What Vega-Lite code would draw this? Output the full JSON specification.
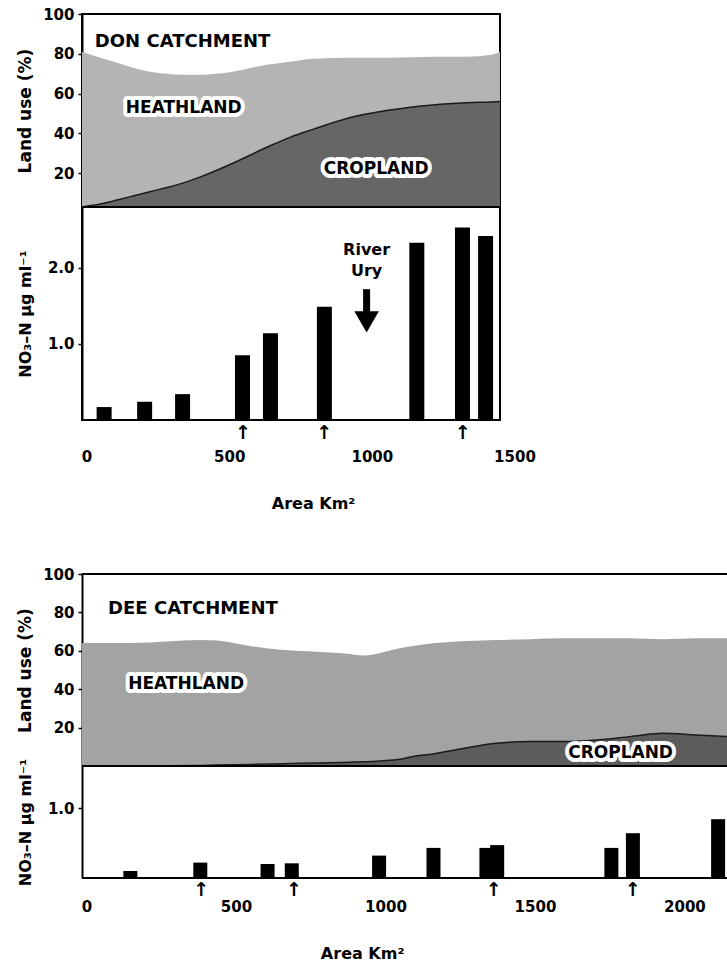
{
  "$schema": "https://vega.github.io/schema/vega-lite/v6.json",
  "padding": {"left": 15, "top": 6, "right": 0, "bottom": 0},
  "background": "white",
  "datasets": {
    "don_land": [
      {"area": 0, "total": 81, "crop": 3},
      {"area": 62, "total": 78, "crop": 4.5},
      {"area": 120, "total": 75.5, "crop": 6.5},
      {"area": 174, "total": 73, "crop": 8.5},
      {"area": 232, "total": 71, "crop": 10.7},
      {"area": 291, "total": 70, "crop": 12.8},
      {"area": 345, "total": 69.5, "crop": 15},
      {"area": 403, "total": 69.5, "crop": 18},
      {"area": 516, "total": 71, "crop": 25},
      {"area": 632, "total": 74.5, "crop": 33},
      {"area": 711, "total": 76, "crop": 38},
      {"area": 790, "total": 77.5, "crop": 42},
      {"area": 906, "total": 78, "crop": 47.5},
      {"area": 1053, "total": 78, "crop": 51.7},
      {"area": 1200, "total": 78.5, "crop": 54.3},
      {"area": 1316, "total": 78.5, "crop": 55.4},
      {"area": 1400, "total": 79.5, "crop": 55.8},
      {"area": 1430, "total": 81, "crop": 56}
    ],
    "don_title": [{"area": 44, "pct": 85.8, "label": "DON CATCHMENT"}],
    "don_boxes": [
      {"area": 150, "pct": 53, "label": "HEATHLAND"},
      {"area": 827, "pct": 22, "label": "CROPLAND"}
    ],
    "don_no3": [
      {"area": 60, "no3": 0.17},
      {"area": 202, "no3": 0.24},
      {"area": 335, "no3": 0.34},
      {"area": 545, "no3": 0.85},
      {"area": 643, "no3": 1.14},
      {"area": 832, "no3": 1.49},
      {"area": 1156, "no3": 2.33},
      {"area": 1316, "no3": 2.53},
      {"area": 1397, "no3": 2.42}
    ],
    "don_river": [
      {"area": 980, "no3": 2.23, "label": "River"},
      {"area": 980, "no3": 1.96, "label": "Ury"}
    ],
    "don_river_arrow": [{"area": 980, "top": 1.72, "bottom": 1.4, "head": 1.29}],
    "don_marks": [{"area": 547}, {"area": 831}, {"area": 1317}],
    "don_xlabels": [
      {"area": 0, "label": "0"},
      {"area": 500, "label": "500"},
      {"area": 1000, "label": "1000"},
      {"area": 1500, "label": "1500"}
    ],
    "don_xtitle": [{"area": 794, "label": "Area Km²"}],
    "dee_land": [
      {"area": 0, "total": 64, "crop": 0},
      {"area": 168, "total": 64, "crop": 0},
      {"area": 389, "total": 65.6, "crop": 0.3},
      {"area": 445, "total": 65.3, "crop": 0.5},
      {"area": 553, "total": 62.5, "crop": 0.8},
      {"area": 662, "total": 60.4, "crop": 1.2},
      {"area": 774, "total": 59.5, "crop": 1.6},
      {"area": 883, "total": 58.3, "crop": 2},
      {"area": 926, "total": 57.5, "crop": 2.2},
      {"area": 1047, "total": 61.3, "crop": 3.5},
      {"area": 1090, "total": 62.5, "crop": 4.9},
      {"area": 1156, "total": 63.9, "crop": 6.3},
      {"area": 1199, "total": 64.5, "crop": 7.5},
      {"area": 1268, "total": 65.1, "crop": 9.5},
      {"area": 1364, "total": 65.6, "crop": 11.8},
      {"area": 1476, "total": 66, "crop": 12.7},
      {"area": 1584, "total": 66.5, "crop": 12.7},
      {"area": 1693, "total": 66.5, "crop": 13.5},
      {"area": 1805, "total": 66.5, "crop": 15.3},
      {"area": 1914, "total": 66, "crop": 17},
      {"area": 2022, "total": 66.5, "crop": 16.1},
      {"area": 2124, "total": 66.5, "crop": 15.3}
    ],
    "dee_title": [{"area": 86, "pct": 81.8, "label": "DEE CATCHMENT"}],
    "dee_boxes": [
      {"area": 152, "pct": 42.7, "label": "HEATHLAND"},
      {"area": 1601, "pct": 6.8, "label": "CROPLAND"}
    ],
    "dee_no3": [
      {"area": 145, "no3": 0.1},
      {"area": 379, "no3": 0.22},
      {"area": 604, "no3": 0.2},
      {"area": 685, "no3": 0.21},
      {"area": 977, "no3": 0.32},
      {"area": 1159, "no3": 0.43},
      {"area": 1336, "no3": 0.43},
      {"area": 1372, "no3": 0.47},
      {"area": 1754, "no3": 0.43},
      {"area": 1826, "no3": 0.64},
      {"area": 2111, "no3": 0.84}
    ],
    "dee_marks": [{"area": 382}, {"area": 692}, {"area": 1360}, {"area": 1825}],
    "dee_xlabels": [
      {"area": 0, "label": "0"},
      {"area": 500, "label": "500"},
      {"area": 1000, "label": "1000"},
      {"area": 1500, "label": "1500"},
      {"area": 2000, "label": "2000"}
    ],
    "dee_xtitle": [{"area": 922, "label": "Area Km²"}]
  },
  "spacing": 54,
  "vconcat": [
    {
      "spacing": 0,
      "bounds": "flush",
      "vconcat": [
        {
          "width": 418,
          "height": 193,
          "layer": [
            {
              "data": {"name": "don_land"},
              "mark": {"type": "area", "interpolate": "monotone", "color": "#b4b4b4", "clip": true},
              "encoding": {
                "x": {"field": "area", "type": "quantitative", "scale": {"domain": [0, 1430]}, "axis": null},
                "y": {"field": "total", "type": "quantitative", "scale": {"domain": [3, 100]}, "title": "Land use (%)", "axis": {"values": [20, 40, 60, 80, 100], "titlePadding": 8}},
                "y2": {"field": "crop"}
              }
            },
            {
              "data": {"name": "don_land"},
              "mark": {"type": "area", "interpolate": "monotone", "color": "#666666", "clip": true},
              "encoding": {
                "x": {"field": "area", "type": "quantitative", "scale": {"domain": [0, 1430]}, "axis": null},
                "y": {"field": "crop", "type": "quantitative", "scale": {"domain": [3, 100]}, "title": "Land use (%)", "axis": {"values": [20, 40, 60, 80, 100], "titlePadding": 8}},
                "y2": {"datum": 3}
              }
            },
            {
              "data": {"name": "don_land"},
              "mark": {"type": "line", "interpolate": "monotone", "color": "#1a1a1a", "strokeWidth": 1.5, "clip": true},
              "encoding": {
                "x": {"field": "area", "type": "quantitative", "scale": {"domain": [0, 1430]}, "axis": null},
                "y": {"field": "crop", "type": "quantitative", "scale": {"domain": [3, 100]}, "title": "Land use (%)", "axis": {"values": [20, 40, 60, 80, 100], "titlePadding": 8}}
              }
            },
            {
              "data": {"name": "don_title"},
              "mark": {"type": "text", "align": "left", "baseline": "middle", "font": "DejaVu Sans", "fontWeight": "bold", "fontSize": 18, "fill": "black"},
              "encoding": {
                "x": {"field": "area", "type": "quantitative", "scale": {"domain": [0, 1430]}, "axis": null},
                "y": {"field": "pct", "type": "quantitative", "scale": {"domain": [3, 100]}, "title": "Land use (%)", "axis": {"values": [20, 40, 60, 80, 100], "titlePadding": 8}},
                "text": {"field": "label"}
              }
            },
            {
              "data": {"name": "don_boxes"},
              "mark": {"type": "text", "align": "left", "baseline": "middle", "font": "DejaVu Sans", "fontWeight": "bold", "fontSize": 17, "fill": "white", "stroke": "white", "strokeWidth": 8, "strokeJoin": "round"},
              "encoding": {
                "x": {"field": "area", "type": "quantitative", "scale": {"domain": [0, 1430]}, "axis": null},
                "y": {"field": "pct", "type": "quantitative", "scale": {"domain": [3, 100]}, "title": "Land use (%)", "axis": {"values": [20, 40, 60, 80, 100], "titlePadding": 8}},
                "text": {"field": "label"}
              }
            },
            {
              "data": {"name": "don_boxes"},
              "mark": {"type": "text", "align": "left", "baseline": "middle", "font": "DejaVu Sans", "fontWeight": "bold", "fontSize": 17, "fill": "black"},
              "encoding": {
                "x": {"field": "area", "type": "quantitative", "scale": {"domain": [0, 1430]}, "axis": null},
                "y": {"field": "pct", "type": "quantitative", "scale": {"domain": [3, 100]}, "title": "Land use (%)", "axis": {"values": [20, 40, 60, 80, 100], "titlePadding": 8}},
                "text": {"field": "label"}
              }
            }
          ]
        },
        {
          "width": 418,
          "height": 213,
          "layer": [
            {
              "data": {"name": "don_no3"},
              "mark": {"type": "bar", "color": "black", "size": 15},
              "encoding": {
                "x": {"field": "area", "type": "quantitative", "scale": {"domain": [0, 1430]}, "axis": null},
                "y": {"field": "no3", "type": "quantitative", "scale": {"domain": [0, 2.75]}, "title": "NO₃–N  μg ml⁻¹", "axis": {"values": [1, 2], "format": ".1f", "titlePadding": 14, "titleFontSize": 16}}
              }
            },
            {
              "data": {"name": "don_river"},
              "mark": {"type": "text", "align": "center", "baseline": "middle", "font": "DejaVu Sans", "fontWeight": "bold", "fontSize": 16, "fill": "black"},
              "encoding": {
                "x": {"field": "area", "type": "quantitative", "scale": {"domain": [0, 1430]}, "axis": null},
                "y": {"field": "no3", "type": "quantitative", "scale": {"domain": [0, 2.75]}, "title": "NO₃–N  μg ml⁻¹", "axis": {"values": [1, 2], "format": ".1f", "titlePadding": 14, "titleFontSize": 16}},
                "text": {"field": "label"}
              }
            },
            {
              "data": {"name": "don_river_arrow"},
              "mark": {"type": "rule", "color": "black", "strokeWidth": 7},
              "encoding": {
                "x": {"field": "area", "type": "quantitative", "scale": {"domain": [0, 1430]}, "axis": null},
                "y": {"field": "top", "type": "quantitative", "scale": {"domain": [0, 2.75]}, "title": "NO₃–N  μg ml⁻¹", "axis": {"values": [1, 2], "format": ".1f", "titlePadding": 14, "titleFontSize": 16}},
                "y2": {"field": "bottom"}
              }
            },
            {
              "data": {"name": "don_river_arrow"},
              "mark": {"type": "point", "shape": "triangle-down", "filled": true, "color": "black", "opacity": 1, "size": 600},
              "encoding": {
                "x": {"field": "area", "type": "quantitative", "scale": {"domain": [0, 1430]}, "axis": null},
                "y": {"field": "head", "type": "quantitative", "scale": {"domain": [0, 2.75]}, "title": "NO₃–N  μg ml⁻¹", "axis": {"values": [1, 2], "format": ".1f", "titlePadding": 14, "titleFontSize": 16}}
              }
            },
            {
              "data": {"name": "don_marks"},
              "mark": {"type": "text", "align": "center", "baseline": "middle", "font": "DejaVu Sans", "fontWeight": "bold", "fontSize": 19, "fill": "black", "text": "↑"},
              "encoding": {
                "x": {"field": "area", "type": "quantitative", "scale": {"domain": [0, 1430]}, "axis": null},
                "y": {"datum": -0.17}
              }
            },
            {
              "data": {"name": "don_xlabels"},
              "mark": {"type": "text", "align": "center", "baseline": "middle", "font": "DejaVu Sans", "fontWeight": "bold", "fontSize": 15, "fill": "black"},
              "encoding": {
                "x": {"field": "area", "type": "quantitative", "scale": {"domain": [0, 1430]}, "axis": null},
                "y": {"datum": -0.49},
                "text": {"field": "label"}
              }
            },
            {
              "data": {"name": "don_xtitle"},
              "mark": {"type": "text", "align": "center", "baseline": "middle", "font": "DejaVu Sans", "fontWeight": "bold", "fontSize": 16, "fill": "black"},
              "encoding": {
                "x": {"field": "area", "type": "quantitative", "scale": {"domain": [0, 1430]}, "axis": null},
                "y": {"datum": -1.1},
                "text": {"field": "label"}
              }
            }
          ]
        }
      ]
    },
    {
      "spacing": 0,
      "bounds": "flush",
      "vconcat": [
        {
          "width": 645,
          "height": 192,
          "view": {"stroke": null},
          "layer": [
            {
              "data": {"name": "dee_land"},
              "mark": {"type": "area", "interpolate": "monotone", "color": "#a3a3a3"},
              "encoding": {
                "x": {"field": "area", "type": "quantitative", "scale": {"domain": [0, 2124]}, "axis": null},
                "y": {"field": "total", "type": "quantitative", "scale": {"domain": [0, 100]}, "title": "Land use (%)", "axis": {"values": [20, 40, 60, 80, 100], "titlePadding": 8}},
                "y2": {"field": "crop"}
              }
            },
            {
              "data": {"name": "dee_land"},
              "mark": {"type": "area", "interpolate": "monotone", "color": "#5c5c5c"},
              "encoding": {
                "x": {"field": "area", "type": "quantitative", "scale": {"domain": [0, 2124]}, "axis": null},
                "y": {"field": "crop", "type": "quantitative", "scale": {"domain": [0, 100]}, "title": "Land use (%)", "axis": {"values": [20, 40, 60, 80, 100], "titlePadding": 8}},
                "y2": {"datum": 0}
              }
            },
            {
              "data": {"name": "dee_land"},
              "mark": {"type": "line", "interpolate": "monotone", "color": "#1a1a1a", "strokeWidth": 1.5},
              "encoding": {
                "x": {"field": "area", "type": "quantitative", "scale": {"domain": [0, 2124]}, "axis": null},
                "y": {"field": "crop", "type": "quantitative", "scale": {"domain": [0, 100]}, "title": "Land use (%)", "axis": {"values": [20, 40, 60, 80, 100], "titlePadding": 8}}
              }
            },
            {
              "data": {"name": "dee_title"},
              "mark": {"type": "rule", "color": "black", "strokeWidth": 2},
              "encoding": {"y": {"datum": 100}}
            },
            {
              "data": {"name": "dee_title"},
              "mark": {"type": "rule", "color": "black", "strokeWidth": 2},
              "encoding": {"y": {"datum": 0}}
            },
            {
              "data": {"name": "dee_title"},
              "mark": {"type": "text", "align": "left", "baseline": "middle", "font": "DejaVu Sans", "fontWeight": "bold", "fontSize": 18, "fill": "black"},
              "encoding": {
                "x": {"field": "area", "type": "quantitative", "scale": {"domain": [0, 2124]}, "axis": null},
                "y": {"field": "pct", "type": "quantitative", "scale": {"domain": [0, 100]}, "title": "Land use (%)", "axis": {"values": [20, 40, 60, 80, 100], "titlePadding": 8}},
                "text": {"field": "label"}
              }
            },
            {
              "data": {"name": "dee_boxes"},
              "mark": {"type": "text", "align": "left", "baseline": "middle", "font": "DejaVu Sans", "fontWeight": "bold", "fontSize": 17, "fill": "white", "stroke": "white", "strokeWidth": 8, "strokeJoin": "round"},
              "encoding": {
                "x": {"field": "area", "type": "quantitative", "scale": {"domain": [0, 2124]}, "axis": null},
                "y": {"field": "pct", "type": "quantitative", "scale": {"domain": [0, 100]}, "title": "Land use (%)", "axis": {"values": [20, 40, 60, 80, 100], "titlePadding": 8}},
                "text": {"field": "label"}
              }
            },
            {
              "data": {"name": "dee_boxes"},
              "mark": {"type": "text", "align": "left", "baseline": "middle", "font": "DejaVu Sans", "fontWeight": "bold", "fontSize": 17, "fill": "black"},
              "encoding": {
                "x": {"field": "area", "type": "quantitative", "scale": {"domain": [0, 2124]}, "axis": null},
                "y": {"field": "pct", "type": "quantitative", "scale": {"domain": [0, 100]}, "title": "Land use (%)", "axis": {"values": [20, 40, 60, 80, 100], "titlePadding": 8}},
                "text": {"field": "label"}
              }
            }
          ]
        },
        {
          "width": 645,
          "height": 112,
          "view": {"stroke": null},
          "layer": [
            {
              "data": {"name": "dee_no3"},
              "mark": {"type": "bar", "color": "black", "size": 14, "clip": true},
              "encoding": {
                "x": {"field": "area", "type": "quantitative", "scale": {"domain": [0, 2124]}, "axis": null},
                "y": {"field": "no3", "type": "quantitative", "scale": {"domain": [0, 1.5]}, "title": "NO₃–N  μg ml⁻¹", "axis": {"values": [1], "format": ".1f", "titlePadding": 14, "titleFontSize": 16}}
              }
            },
            {
              "data": {"name": "dee_xtitle"},
              "mark": {"type": "rule", "color": "black", "strokeWidth": 2},
              "encoding": {"y": {"datum": 0}}
            },
            {
              "data": {"name": "dee_marks"},
              "mark": {"type": "text", "align": "center", "baseline": "middle", "font": "DejaVu Sans", "fontWeight": "bold", "fontSize": 19, "fill": "black", "text": "↑"},
              "encoding": {
                "x": {"field": "area", "type": "quantitative", "scale": {"domain": [0, 2124]}, "axis": null},
                "y": {"datum": -0.17}
              }
            },
            {
              "data": {"name": "dee_xlabels"},
              "mark": {"type": "text", "align": "center", "baseline": "middle", "font": "DejaVu Sans", "fontWeight": "bold", "fontSize": 15, "fill": "black"},
              "encoding": {
                "x": {"field": "area", "type": "quantitative", "scale": {"domain": [0, 2124]}, "axis": null},
                "y": {"datum": -0.42},
                "text": {"field": "label"}
              }
            },
            {
              "data": {"name": "dee_xtitle"},
              "mark": {"type": "text", "align": "center", "baseline": "middle", "font": "DejaVu Sans", "fontWeight": "bold", "fontSize": 16, "fill": "black"},
              "encoding": {
                "x": {"field": "area", "type": "quantitative", "scale": {"domain": [0, 2124]}, "axis": null},
                "y": {"datum": -1.08},
                "text": {"field": "label"}
              }
            }
          ]
        }
      ]
    }
  ],
  "config": {
    "font": "DejaVu Sans",
    "view": {"stroke": "black", "strokeWidth": 2},
    "axis": {
      "labelFont": "DejaVu Sans",
      "labelFontWeight": "bold",
      "labelFontSize": 15,
      "labelColor": "black",
      "labelPadding": 4,
      "titleFont": "DejaVu Sans",
      "titleFontWeight": "bold",
      "titleFontSize": 17,
      "titleColor": "black",
      "tickColor": "black",
      "tickSize": 4,
      "tickWidth": 1.5,
      "domainColor": "black",
      "domainWidth": 2,
      "grid": false
    }
  }
}
